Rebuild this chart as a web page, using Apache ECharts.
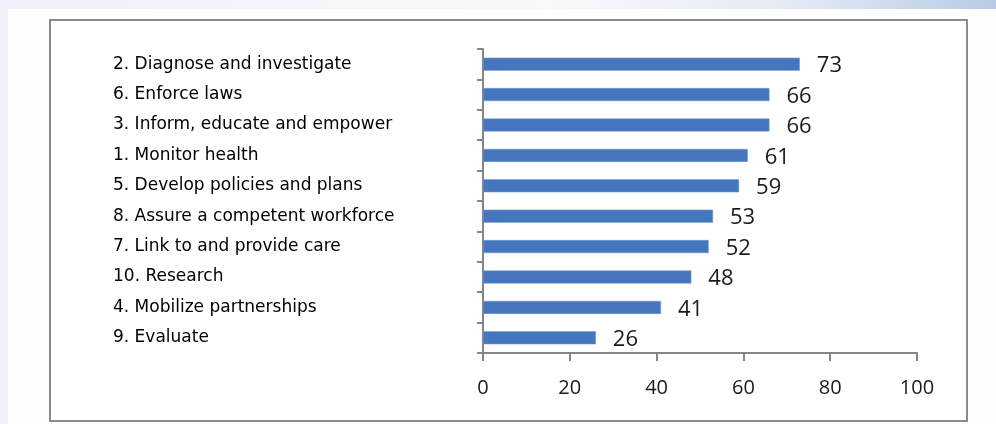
<!DOCTYPE html>
<html>
<head>
<meta charset="utf-8">
<script src="https://cdn.jsdelivr.net/npm/echarts@6/dist/echarts.min.js"></script>
<style>
html,body{margin:0;padding:0;background:#eef1f7;}
#c{width:996px;height:424px;}
</style>
</head>
<body>
<div id="c"></div>
<script>
const categories = [
  "2. Diagnose and investigate",
  "6. Enforce laws",
  "3. Inform, educate and empower",
  "1. Monitor health",
  "5. Develop policies and plans",
  "8. Assure a competent workforce",
  "7. Link to and provide care",
  "10. Research",
  "4. Mobilize partnerships",
  "9. Evaluate"
];
const values = [73, 66, 66, 61, 59, 53, 52, 48, 41, 26];
const xTicks = [0, 20, 40, 60, 80, 100];

const chart = echarts.init(document.getElementById('c'), null, {renderer: 'canvas'});
const font = "'Open Sans', 'Liberation Sans', sans-serif";
chart.setOption({
  animation: false,
  graphic: [
    {type: 'rect', z: -10, shape: {x: 0, y: 0, width: 996, height: 9},
     style: {fill: new echarts.graphic.LinearGradient(0, 0, 1, 0, [
       {offset: 0, color: '#eef1f7'}, {offset: 0.55, color: '#f8f9fc'},
       {offset: 0.8, color: '#e3e9f3'}, {offset: 1, color: '#b8cae4'}])}},
    {type: 'rect', z: -10, shape: {x: 8, y: 9, width: 988, height: 415}, style: {fill: '#fdfefe'}},
    {type: 'rect', z: -9, shape: {x: 50, y: 20, width: 917, height: 401},
     style: {fill: '#ffffff', stroke: '#8f8a8a', lineWidth: 2}}
  ],
  grid: {left: 483, top: 49, right: 79, bottom: 71, containLabel: false},
  xAxis: {
    type: 'value', min: 0, max: 100, interval: 20,
    axisLine: {show: true, lineStyle: {color: '#8a8585', width: 2}},
    axisTick: {show: true, length: 8, lineStyle: {color: '#8a8585', width: 2}},
    splitLine: {show: false},
    axisLabel: {
      margin: 25, fontSize: 20, color: '#1a1a1a', fontFamily: font,
      formatter: v => xTicks.includes(v) ? String(v) : ''
    }
  },
  yAxis: {
    type: 'category', data: categories, inverse: true,
    axisLine: {show: true, lineStyle: {color: '#8a8585', width: 2}},
    axisTick: {show: true, length: 6, lineStyle: {color: '#8a8585', width: 2}},
    axisLabel: {
      align: 'left', margin: 370, fontSize: 17, color: '#000',
      fontFamily: "'DejaVu Sans', sans-serif"
    }
  },
  series: [{
    type: 'bar', data: values, barWidth: 13,
    itemStyle: {color: '#4677be', borderColor: '#6d98cf', borderWidth: 0.5},
    label: {
      show: true, position: 'right', distance: 17, fontSize: 22,
      color: '#1a1a1a', fontFamily: font, offset: [0, 2]
    }
  }]
});
</script>
</body>
</html>
